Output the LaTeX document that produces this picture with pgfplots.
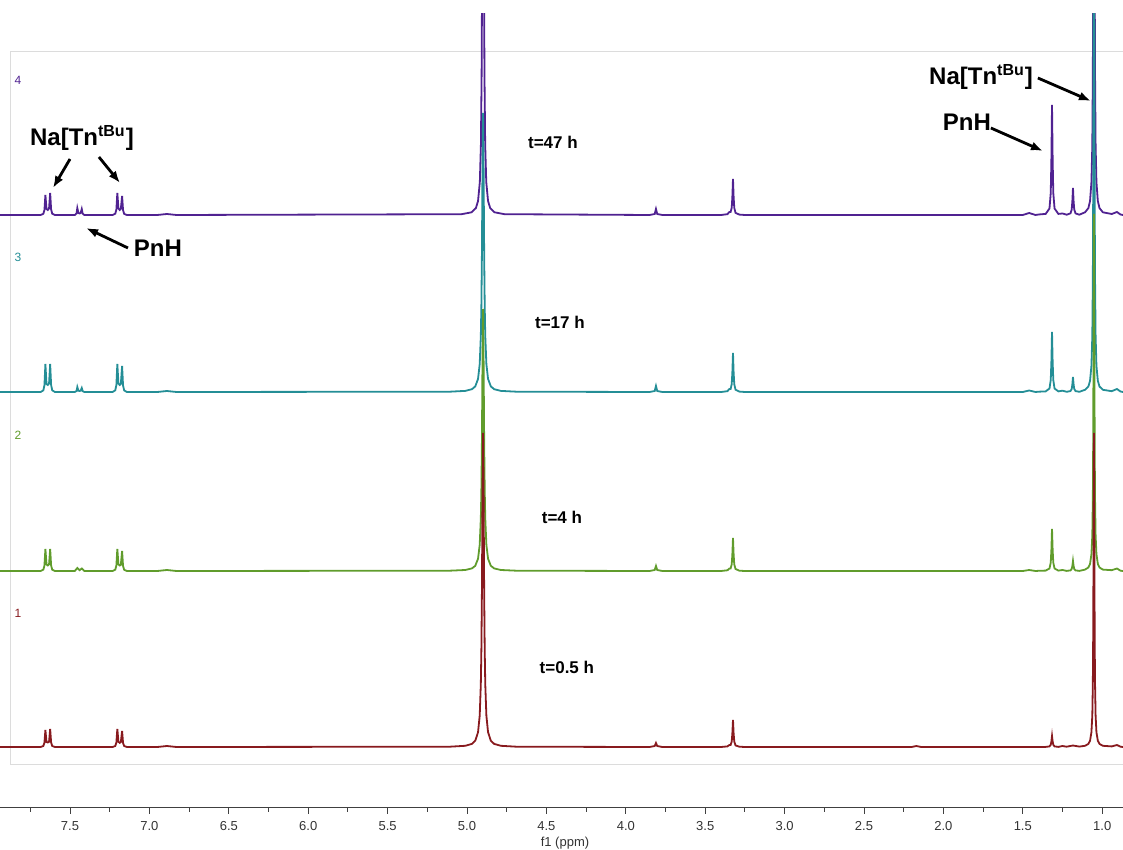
\documentclass[border=0pt]{standalone}
\usepackage{pgfplots}
\pgfplotsset{compat=1.18}
\usepackage{fontspec}
\setmainfont{Liberation Sans}
\usetikzlibrary{arrows.meta}
\definecolor{cP}{RGB}{80,34,145}
\definecolor{cT}{RGB}{36,142,150}
\definecolor{cG}{RGB}{96,156,44}
\definecolor{cR}{RGB}{136,26,30}
\definecolor{frameg}{RGB}{220,220,220}
\begin{document}
\begin{tikzpicture}
\useasboundingbox (0,-21pt) rectangle (561.5pt,404pt);
\begin{axis}[at={(0,0)}, anchor=south west, scale only axis,
 width=561.5pt, height=397pt,
 xmin=0.869, xmax=7.941, x dir=reverse, ymin=42, ymax=836,
 axis x line=bottom, axis y line=none,
 x axis line style={-, draw=black!75, line width=0.5pt},
 xtick={1,1.5,2,2.5,3,3.5,4,4.5,5,5.5,6,6.5,7,7.5},
 minor xtick={1.25,1.75,2.25,2.75,3.25,3.75,4.25,4.75,5.25,5.75,6.25,6.75,7.25,7.75},
 tick align=outside, major tick length=3pt, minor tick length=1.8pt,
 tick style={draw=black!75, line width=0.5pt},
 xticklabel style={font=\fontsize{6.5}{7}\selectfont, text=black!80,
   /pgf/number format/fixed, /pgf/number format/fixed zerofill,
   /pgf/number format/precision=1, /pgf/number format/assume math mode=true},
 clip mode=individual,
]
% frame
\draw[frameg, line width=0.5pt] (axis cs:7.872,85) rectangle (axis cs:0.869,798);
% trace 4 (purple)
\addplot[cP, line width=0.9pt] coordinates {
(7.941,635)(7.685,635)(7.668,636.2)(7.661,640)(7.655,655)(7.648,641)(7.640,640)(7.632,641.6)(7.625,657)(7.619,640.5)(7.612,636.3)(7.595,635)
(7.47,635)(7.459,636.5)(7.454,642)(7.447,637)(7.440,636.5)(7.433,637)(7.426,641)(7.420,636.3)(7.41,635)
(7.232,635)(7.215,636.3)(7.208,640.5)(7.202,657)(7.195,641.6)(7.187,640)(7.180,641)(7.172,654)(7.166,639.8)(7.159,636.1)(7.142,635)
(6.95,635)(6.89,636)(6.83,635)
(5.034,635.8)(4.971,637.7)(4.944,641.9)(4.9305,649)(4.91925,667.9)(4.9125,705)(4.908,775)(4.90575,850.6)(4.9035,985)(4.90125,1195)(4.899,1335)
(4.89675,1195)(4.8945,985)(4.89225,850.6)(4.89,775)(4.8855,705)(4.87875,667.9)(4.8675,649)(4.854,641.9)(4.827,637.7)(4.764,635.8)
(3.85,635)(3.818,636)(3.81,641)(3.802,636)(3.77,635)
(3.40,635)(3.36,635.8)(3.348,638)(3.340,638)(3.333,642.2)(3.329,653)(3.325,671)(3.321,653)(3.317,642.2)(3.309,637.1)(3.285,635.4)(3.25,635)
(1.50,635)(1.46,637)(1.42,635)
(1.40,635.5)(1.356,636.1)(1.332,641.5)(1.324,657)(1.320,690)(1.316,745)(1.312,690)(1.308,657)(1.300,641.5)(1.276,636.1)
(1.25,636.5)
(1.224,635.3)(1.200,636.6)(1.192,640.4)(1.188,648.5)(1.184,662)(1.180,648.5)(1.176,640.4)(1.168,636.6)(1.144,635.3)
(1.108,637.7)(1.087,641.9)(1.0765,649)(1.06775,667.9)(1.06225,705)(1.0590,775)(1.05725,850.6)(1.0555,985)(1.05375,1195)(1.052,1335)
(1.05025,1195)(1.0485,985)(1.04675,850.6)(1.045,775)(1.0415,705)(1.03625,667.9)(1.0275,649)(1.017,641.9)(0.996,637.7)
(0.94,636)(0.907,638)(0.885,635.5)(0.869,635)
};
% trace 3 (teal)
\addplot[cT, line width=0.9pt] coordinates {
(7.941,458)(7.685,458)(7.668,459.6)(7.661,464.8)(7.655,486)(7.648,466)(7.640,465)(7.632,466.5)(7.625,486)(7.619,465)(7.612,459.7)(7.595,458)
(7.47,458)(7.459,459)(7.454,463)(7.447,459.3)(7.440,459)(7.433,459.3)(7.426,462)(7.420,458.8)(7.41,458)
(7.232,458)(7.215,459.7)(7.208,465)(7.202,486)(7.195,466.4)(7.187,465)(7.180,465.8)(7.172,484)(7.166,464.5)(7.159,459.6)(7.142,458)
(6.95,458)(6.89,459)(6.83,458)
(5.109,458.3)(5.011,459.1)(4.969,460.8)(4.948,463.6)(4.9305,471.1)(4.920,485.9)(4.913,513.8)(4.9095,543.9)(4.906,597.5)(4.9025,681.2)(4.899,737)
(4.8955,681.2)(4.892,597.5)(4.8885,543.9)(4.885,513.8)(4.878,485.9)(4.8675,471.1)(4.850,463.6)(4.829,460.8)(4.787,459.1)(4.689,458.3)
(3.85,458)(3.818,459)(3.81,464)(3.802,459)(3.77,458)
(3.40,458)(3.36,458.8)(3.348,461)(3.340,461)(3.333,465.8)(3.329,477.5)(3.325,497)(3.321,477.5)(3.317,465.8)(3.309,460.3)(3.285,458.4)(3.25,458)
(1.50,458)(1.46,459.5)(1.42,458)
(1.40,458.3)(1.356,458.6)(1.332,461.5)(1.324,470)(1.320,488)(1.316,518)(1.312,488)(1.308,470)(1.300,461.5)(1.276,458.6)
(1.25,459.3)
(1.224,458.2)(1.200,458.9)(1.192,461)(1.188,465.5)(1.184,473)(1.180,465.5)(1.176,461)(1.168,458.9)(1.144,458.2)
(1.108,460.2)(1.087,463.5)(1.0765,469.2)(1.06775,484.3)(1.06225,514)(1.0590,570)(1.05725,630.5)(1.0555,738)(1.05375,906)(1.052,1018)
(1.05025,906)(1.0485,738)(1.04675,630.5)(1.045,570)(1.0415,514)(1.03625,484.3)(1.0275,469.2)(1.017,463.5)(0.996,460.2)
(0.94,458.8)(0.907,461)(0.885,458.5)(0.869,458)
};
% trace 2 (green)
\addplot[cG, line width=0.9pt] coordinates {
(7.941,279)(7.685,279)(7.668,280.3)(7.661,284.5)(7.655,301)(7.648,285.6)(7.640,284.5)(7.632,285.6)(7.625,301)(7.619,284.5)(7.612,280.3)(7.595,279)
(7.47,279)(7.454,282)(7.44,279.8)(7.426,281.5)(7.41,279)
(7.232,279)(7.215,280.3)(7.208,284.5)(7.202,301)(7.195,285.6)(7.187,284.5)(7.180,285)(7.172,299)(7.166,284)(7.159,280.2)(7.142,279)
(6.95,279)(6.89,280)(6.83,279)
(5.109,279.3)(5.011,280.0)(4.969,281.6)(4.948,284.2)(4.9305,291.3)(4.920,305.2)(4.913,331.4)(4.9095,359.7)(4.906,410)(4.9025,488.6)(4.899,541)
(4.8955,488.6)(4.892,410)(4.8885,359.7)(4.885,331.4)(4.878,305.2)(4.8675,291.3)(4.850,284.2)(4.829,281.6)(4.787,280.0)(4.689,279.3)
(3.85,279)(3.818,280)(3.81,284)(3.802,280)(3.77,279)
(3.40,279)(3.36,279.7)(3.348,281.5)(3.340,281.5)(3.333,285.6)(3.329,295.5)(3.325,312)(3.321,295.5)(3.317,285.6)(3.309,281)(3.285,279.3)(3.25,279)
(1.50,279)(1.46,280)(1.42,279)
(1.40,279.2)(1.356,279.4)(1.332,281.5)(1.324,287.4)(1.320,300)(1.316,321)(1.312,300)(1.308,287.4)(1.300,281.5)(1.276,279.4)
(1.25,280)
(1.224,279.1)(1.200,279.6)(1.192,281)(1.188,284)(1.184,289)(1.180,284)(1.176,281)(1.168,279.6)(1.144,279.1)
(1.108,280.4)(1.087,282.5)(1.0765,286.1)(1.06775,295.8)(1.06225,314.7)(1.0590,350.4)(1.05725,389)(1.0555,457.5)(1.05375,564.6)(1.052,636)
(1.05025,564.6)(1.0485,457.5)(1.04675,389)(1.045,350.4)(1.0415,314.7)(1.03625,295.8)(1.0275,286.1)(1.017,282.5)(0.996,280.4)
(0.94,279.8)(0.907,281.5)(0.885,279.3)(0.869,279)
};
% trace 1 (red)
\addplot[cR, line width=0.9pt] coordinates {
(7.941,103)(7.685,103)(7.668,104)(7.661,107.3)(7.655,120)(7.648,108)(7.640,107.5)(7.632,108.2)(7.625,121)(7.619,107.5)(7.612,104)(7.595,103)
(7.232,103)(7.215,104)(7.208,107.5)(7.202,121)(7.195,108.2)(7.187,107.2)(7.180,107.8)(7.172,119)(7.166,107)(7.159,104)(7.142,103)
(6.95,103)(6.89,104)(6.83,103)
(5.109,103.3)(5.011,104.2)(4.969,106.1)(4.948,109.3)(4.9305,117.8)(4.920,134.4)(4.913,165.8)(4.9095,199.7)(4.906,260)(4.9025,354.2)(4.899,417)
(4.8955,354.2)(4.892,260)(4.8885,199.7)(4.885,165.8)(4.878,134.4)(4.8675,117.8)(4.850,109.3)(4.829,106.1)(4.787,104.2)(4.689,103.3)
(3.85,103)(3.818,104)(3.81,107)(3.802,104)(3.77,103)
(3.40,103)(3.36,103.6)(3.348,105)(3.340,105)(3.333,108.4)(3.329,116.5)(3.325,130)(3.321,116.5)(3.317,108.4)(3.309,104.6)(3.285,103.3)(3.25,103)
(2.2,103)(2.17,104)(2.14,103)
(1.40,103)(1.356,103.1)(1.332,103.6)(1.324,105.2)(1.320,108.5)(1.316,114)(1.312,108.5)(1.308,105.2)(1.300,103.6)(1.276,103.1)
(1.25,104)(1.224,103.3)(1.184,104.5)(1.144,103.4)
(1.108,104.2)(1.087,106.1)(1.0765,109.3)(1.06775,117.8)(1.06225,134.4)(1.0590,165.8)(1.05725,199.7)(1.0555,260)(1.05375,354.2)(1.052,417)
(1.05025,354.2)(1.0485,260)(1.04675,199.7)(1.045,165.8)(1.0415,134.4)(1.03625,117.8)(1.0275,109.3)(1.017,106.1)(0.996,104.2)
(0.94,103.6)(0.907,105)(0.885,103.3)(0.869,103)
};
% spectrum numbers
\node[cP, font=\fontsize{6}{7}\selectfont] at (axis cs:7.828,770) {4};
\node[cT, font=\fontsize{6}{7}\selectfont] at (axis cs:7.828,593) {3};
\node[cG, font=\fontsize{6}{7}\selectfont] at (axis cs:7.828,415) {2};
\node[cR, font=\fontsize{6}{7}\selectfont] at (axis cs:7.828,237) {1};
% time labels
\node[font=\bfseries\fontsize{8.5}{10}\selectfont] at (axis cs:4.459,708) {t=47 h};
\node[font=\bfseries\fontsize{8.5}{10}\selectfont] at (axis cs:4.415,528) {t=17 h};
\node[font=\bfseries\fontsize{8.5}{10}\selectfont] at (axis cs:4.402,333) {t=4 h};
\node[font=\bfseries\fontsize{8.5}{10}\selectfont] at (axis cs:4.371,183) {t=0.5 h};
% annotations
\node[font=\bfseries\fontsize{12}{14}\selectfont] at (axis cs:7.425,712) {Na[Tn\textsuperscript{tBu}]};
\node[font=\bfseries\fontsize{12}{14}\selectfont] at (axis cs:6.946,602) {PnH};
\node[font=\bfseries\fontsize{12}{14}\selectfont] at (axis cs:1.763,773) {Na[Tn\textsuperscript{tBu}]};
\node[font=\bfseries\fontsize{12}{14}\selectfont] at (axis cs:1.852,728) {PnH};
\draw[-{Latex[length=6pt,width=4.5pt]}, line width=1.4pt] (axis cs:7.500,691) -- (axis cs:7.607,662);
\draw[-{Latex[length=6pt,width=4.5pt]}, line width=1.4pt] (axis cs:7.318,693) -- (axis cs:7.185,667);
\draw[-{Latex[length=6pt,width=4.5pt]}, line width=1.4pt] (axis cs:7.135,602) -- (axis cs:7.399,622);
\draw[-{Latex[length=6pt,width=4.5pt]}, line width=1.4pt] (axis cs:1.405,772) -- (axis cs:1.071,749);
\draw[-{Latex[length=6pt,width=4.5pt]}, line width=1.4pt] (axis cs:1.701,722) -- (axis cs:1.373,699);
% x label
\node[font=\fontsize{6.5}{7}\selectfont, text=black!80] at (axis cs:4.383,7) {f1 (ppm)};
\end{axis}
\end{tikzpicture}
\end{document}
